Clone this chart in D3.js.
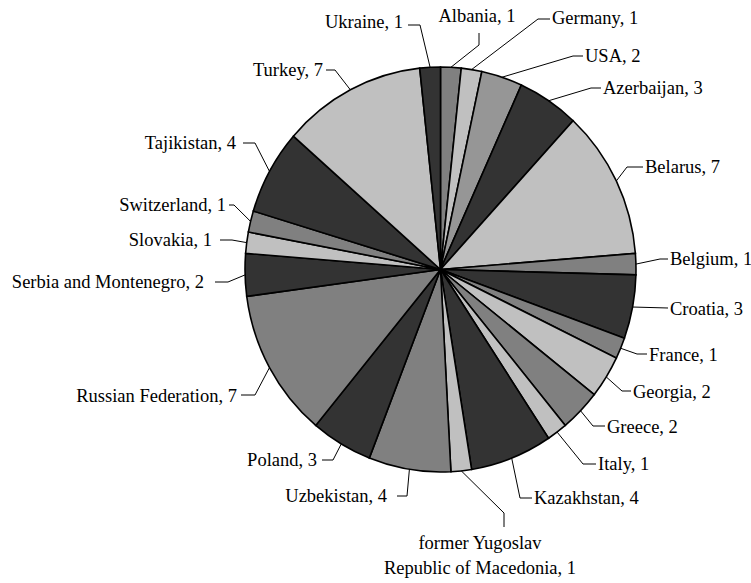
<!DOCTYPE html>
<html>
<head>
<meta charset="utf-8">
<script src="https://cdn.jsdelivr.net/npm/d3@7"></script>
<style>
  body { margin: 0; background: #fff; }
  svg { display: block; }
  .lbl { font-family: 'Times New Roman', 'Liberation Serif', Tinos, 'DejaVu Serif', serif; font-size: 18.5px; }
</style>
</head>
<body>
<div id="chart"></div>
<script>
// Slice data, clockwise from 12 o'clock
const countries = [
  'Albania', 'Germany', 'USA', 'Azerbaijan', 'Belarus', 'Belgium', 'Croatia',
  'France', 'Georgia', 'Greece', 'Italy', 'Kazakhstan',
  'former Yugoslav Republic of Macedonia', 'Uzbekistan', 'Poland',
  'Russian Federation', 'Serbia and Montenegro', 'Slovakia', 'Switzerland',
  'Tajikistan', 'Turkey', 'Ukraine',
];
const counts = [1, 1, 2, 3, 7, 1, 3, 1, 2, 2, 1, 4, 1, 4, 3, 7, 2, 1, 1, 4, 7, 1];

// Fill of each slice
const sliceColors = [
  '#808080', '#c0c0c0', '#969696', '#333333', '#c0c0c0', '#808080', '#333333',
  '#808080', '#c0c0c0', '#808080', '#c0c0c0', '#333333',
  '#c0c0c0', '#808080', '#333333',
  '#808080', '#333333', '#c0c0c0', '#808080',
  '#333333', '#c0c0c0', '#333333',
];

// Label placement: text point, anchor, leader elbow and leader end
const labelLayout = [
  { x: 477, y: 16, anchor: 'middle', elbow: [479, 45], end: [479, 33] },
  { x: 552, y: 18, anchor: 'start', elbow: [538, 19], end: [550, 19] },
  { x: 585, y: 56, anchor: 'start', elbow: [573, 56], end: [583, 56] },
  { x: 603, y: 88, anchor: 'start', elbow: [591, 88], end: [601, 88] },
  { x: 645, y: 167, anchor: 'start', elbow: [627, 167], end: [643, 167] },
  { x: 670, y: 259, anchor: 'start', elbow: [660, 259], end: [668, 259] },
  { x: 670, y: 309, anchor: 'start', elbow: [668, 308], end: [668, 308] },
  { x: 649, y: 355, anchor: 'start', elbow: [637, 354], end: [647, 354] },
  { x: 633, y: 392, anchor: 'start', elbow: [622, 391], end: [631, 391] },
  { x: 607, y: 427, anchor: 'start', elbow: [593, 426], end: [605, 426] },
  { x: 598, y: 464, anchor: 'start', elbow: [583, 464], end: [596, 464] },
  { x: 534, y: 498, anchor: 'start', elbow: [520, 498], end: [532, 498] },
  { x: 480, y: 543, anchor: 'middle', elbow: [504, 513], end: [504, 527] },
  { x: 387, y: 496, anchor: 'end', elbow: [407, 496], end: [397, 496] },
  { x: 317, y: 460, anchor: 'end', elbow: [333, 460], end: [322, 460] },
  { x: 237, y: 396, anchor: 'end', elbow: [255, 395], end: [241, 395] },
  { x: 204, y: 282, anchor: 'end', elbow: [228, 282], end: [215, 282] },
  { x: 212, y: 240, anchor: 'end', elbow: [232, 240], end: [220, 240] },
  { x: 226, y: 205, anchor: 'end', elbow: [234, 205], end: [229, 205] },
  { x: 236, y: 143, anchor: 'end', elbow: [255, 143], end: [243, 143] },
  { x: 323, y: 70, anchor: 'end', elbow: [335, 70], end: [326, 70] },
  { x: 403, y: 22, anchor: 'end', elbow: [420, 25], end: [408, 25] },
];

const width = 751;
const height = 583;
const cx = 440.5;
const cy = 269.5;
const rx = 195.5;
const ry = 202.5;

const data = countries.map((name, i) => ({ name, value: counts[i], i }));

const svg = d3.select('#chart')
  .append('svg')
  .attr('width', width)
  .attr('height', height);

const pie = d3.pie()
  .sort(null)
  .value((d) => d.value);
const arcs = pie(data);

const arc = d3.arc()
  .innerRadius(0)
  .outerRadius(rx);

// Pie, slightly stretched vertically
svg.append('g')
  .attr('transform', `translate(${cx},${cy}) scale(1,${ry / rx})`)
  .selectAll('path')
  .data(arcs)
  .join('path')
  .attr('d', arc)
  .attr('fill', (d) => sliceColors[d.data.i])
  .attr('stroke', '#000')
  .attr('stroke-width', 1.6)
  .attr('vector-effect', 'non-scaling-stroke');

// Leader lines
const line = d3.line();
svg.append('g')
  .selectAll('path')
  .data(arcs)
  .join('path')
  .attr('fill', 'none')
  .attr('stroke', '#000')
  .attr('stroke-width', 1)
  .attr('d', (d) => {
    const a = (d.startAngle + d.endAngle) / 2;
    const p0 = [cx + rx * Math.sin(a), cy - ry * Math.cos(a)];
    const lay = labelLayout[d.data.i];
    return line([p0, lay.elbow, lay.end]);
  });

// Labels
const labels = svg.append('g')
  .selectAll('text')
  .data(arcs)
  .join('text')
  .attr('class', 'lbl')
  .attr('fill', '#000')
  .attr('x', (d) => labelLayout[d.data.i].x)
  .attr('y', (d) => labelLayout[d.data.i].y)
  .attr('dy', '0.35em')
  .attr('text-anchor', (d) => labelLayout[d.data.i].anchor);

labels.each(function (d) {
  const t = d3.select(this);
  if (d.data.name.startsWith('former')) {
    const x = labelLayout[d.data.i].x;
    t.append('tspan').attr('x', x).text('former Yugoslav');
    t.append('tspan').attr('x', x).attr('dy', 25)
      .text(`Republic of Macedonia, ${d.data.value}`);
  } else {
    t.text(`${d.data.name}, ${d.data.value}`);
  }
});
</script>
</body>
</html>
